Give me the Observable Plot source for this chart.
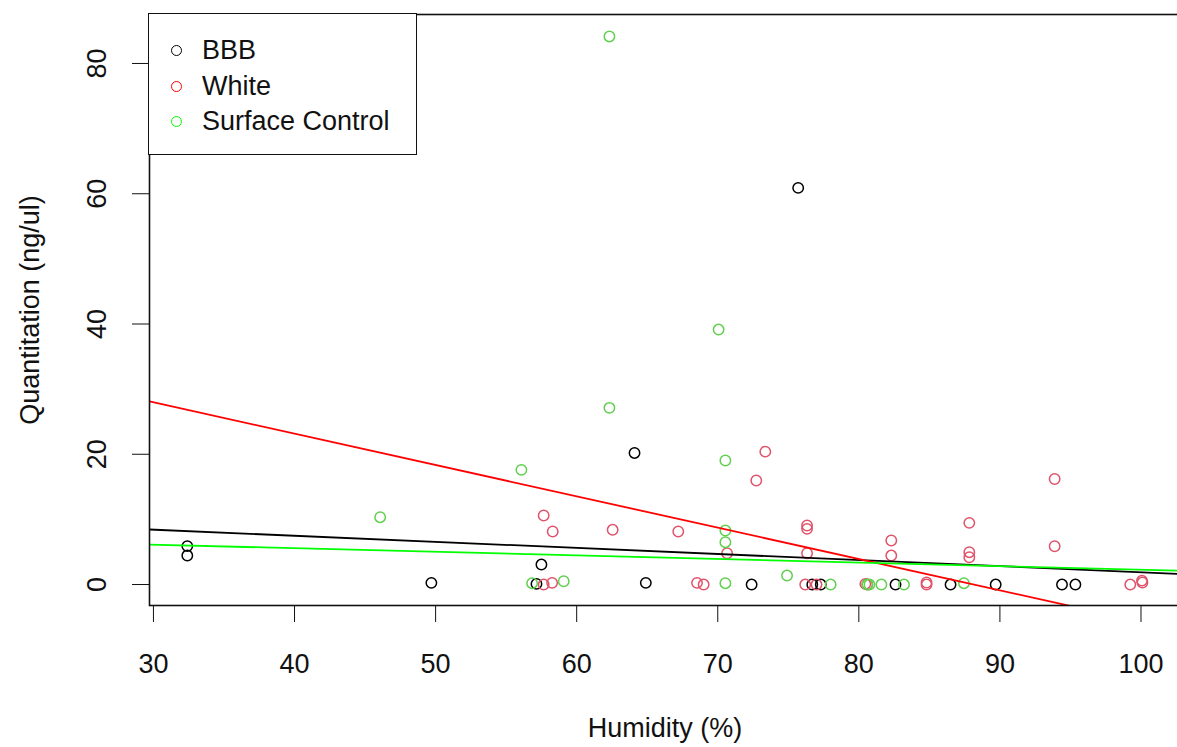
<!DOCTYPE html>
<html>
<head>
<meta charset="utf-8">
<script src="https://cdn.jsdelivr.net/npm/d3@7"></script>
<script src="https://cdn.jsdelivr.net/npm/@observablehq/plot@0.6"></script>
<style>
  html, body { margin: 0; padding: 0; background: #fff; }
  #wrap { position: relative; width: 1177px; height: 747px; overflow: hidden; font-family: "Liberation Sans", Arial, sans-serif; }
  #legend { position: absolute; left: 148px; top: 13px; width: 269px; height: 142px; box-sizing: border-box;
            border: 1.6px solid #111; background: #fff; }
  .row { position: absolute; left: 0; height: 36px; display: flex; align-items: center; font-size: 27px; color: #111; }
  .sym { display: inline-block; width: 9px; height: 9px; border-radius: 50%; border: 1.5px solid; margin-left: 22px; margin-right: 20px; }
</style>
</head>
<body>
<div id="wrap">
  <div id="chart"></div>
  <div id="legend"></div>
</div>
<script>
// ---- data ----
const groups = ["BBB", "White", "Surface Control"];
const pointColors = ["#000000", "#DF536B", "#61D04F"];
const legendColors = ["#000000", "#FF0000", "#00FF00"];
const lineColors = ["#000000", "#FF0000", "#00FF00"];

const bbbHumidity = [32.4, 32.4, 49.7, 57.15, 57.5, 64.1, 64.9, 72.4, 75.7, 76.7, 77.3, 82.6, 86.5, 89.7, 94.4, 95.35];
const bbbQuant    = [5.9, 4.45, 0.26, 0.1, 3.07, 20.2, 0.26, 0, 60.9, 0, 0, 0, 0, 0, 0, 0];

const whiteHumidity = [57.66, 58.3, 62.55, 67.2, 73.37, 72.73, 76.33, 76.33, 76.33, 70.66, 57.66, 58.26, 68.53, 69.0, 76.2, 77.0, 80.46, 80.6, 84.8, 84.8, 99.24, 100.07, 100.1, 82.3, 82.3, 87.83, 87.83, 87.83, 93.88, 93.88];
const whiteQuant    = [10.6, 8.14, 8.4, 8.14, 20.4, 15.97, 9.06, 8.55, 4.8, 4.8, 0, 0.26, 0.26, 0, 0, 0, 0.1, 0, 0.3, 0, 0, 0.6, 0.3, 6.76, 4.45, 9.47, 4.96, 4.19, 16.2, 5.88];

const surfHumidity = [46.07, 56.08, 62.32, 62.32, 70.06, 70.54, 70.54, 70.54, 70.54, 59.08, 56.84, 74.91, 78.0, 80.6, 80.75, 81.6, 83.2, 87.45];
const surfQuant    = [10.34, 17.6, 27.13, 84.15, 39.15, 19.04, 8.29, 6.5, 0.2, 0.5, 0.2, 1.38, 0, 0, 0, 0, 0, 0.2];

// fitted lines (intercept, slope)
const fitIntercepts = [11.23, 42.4, 7.77];
const fitSlopes     = [-0.0935, -0.481, -0.055];

const xTicks = [30, 40, 50, 60, 70, 80, 90, 100];
const yTicks = [0, 20, 40, 60, 80];
const xDomain = [29.72, 102.8];
const yDomain = [-3.22, 87.52];

// ---- build tables ----
const series = [
  [bbbHumidity, bbbQuant],
  [whiteHumidity, whiteQuant],
  [surfHumidity, surfQuant]
];
const points = [];
series.forEach(([xs, ys], g) => xs.forEach((x, i) => points.push({group: groups[g], x, y: ys[i]})));

const fits = [];
[1, 2, 0].forEach(g => xDomain.forEach(x => fits.push({group: groups[g], x, y: fitIntercepts[g] + fitSlopes[g] * x})));

const colorMap = Object.fromEntries(groups.map((g, i) => [g, pointColors[i]]));
const lineMap = Object.fromEntries(groups.map((g, i) => [g, lineColors[i]]));

const font = 27;

const chart = Plot.plot({
  width: 1177,
  height: 747,
  marginLeft: 149,
  marginTop: 14,
  marginBottom: 142,
  marginRight: -3,
  style: {fontFamily: '"Liberation Sans", Arial, sans-serif', background: "#fff", color: "#111"},
  x: {domain: xDomain},
  y: {domain: yDomain},
  marks: [
    Plot.dot(points, {x: "x", y: "y", r: 5.2, stroke: d => colorMap[d.group], strokeWidth: 1.5, fill: "none"}),
    ...groups.map(g => Plot.line(fits.filter(d => d.group === g), {x: "x", y: "y", stroke: lineMap[g], strokeWidth: 1.8, clip: true})),
    Plot.frame({stroke: "#111", strokeWidth: 1.6}),
    Plot.axisX(xTicks, {tickSize: 17, tickPadding: 31, fontSize: font, label: null, stroke: "#111"}),
    Plot.axisY(yTicks, {tickSize: 17, tickFormat: () => "", label: null, stroke: "#111"}),
    Plot.text(yTicks, {frameAnchor: "left", y: d => d, text: d => String(d), rotate: -90, dx: -52, fontSize: font, textAnchor: "middle", lineAnchor: "middle", fill: "#111"}),
    Plot.text(["Humidity (%)"], {frameAnchor: "bottom", text: d => d, dy: 123, fontSize: font, textAnchor: "middle", lineAnchor: "middle", fill: "#111"}),
    Plot.text(["Quantitation (ng/ul)"], {frameAnchor: "left", text: d => d, dx: -119, rotate: -90, fontSize: font, textAnchor: "middle", lineAnchor: "middle", fill: "#111"})
  ]
});
document.getElementById("chart").appendChild(chart);

// legend
const legend = document.getElementById("legend");
const rowTops = [18, 54, 89];
groups.forEach((g, i) => {
  const row = document.createElement("div");
  row.className = "row";
  row.style.top = rowTops[i] + "px";
  const sym = document.createElement("span");
  sym.className = "sym";
  sym.style.borderColor = legendColors[i];
  const label = document.createElement("span");
  label.textContent = g;
  row.appendChild(sym);
  row.appendChild(label);
  legend.appendChild(row);
});
</script>
</body>
</html>
